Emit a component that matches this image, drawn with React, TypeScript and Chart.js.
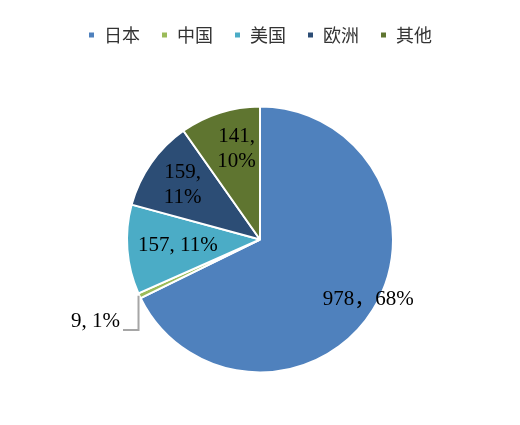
import React, { useEffect, useRef } from "react";
import { Chart, registerables } from "chart.js";

Chart.register(...registerables);

const categories = ["日本", "中国", "美国", "欧洲", "其他"];
const values = [978, 9, 157, 159, 141];
const colors = ["#4F81BD", "#9BBB59", "#4BACC6", "#2C4D75", "#5F7530"];
// label separators: Japan uses a full-width comma, two labels wrap onto two lines
const separators = ["，", ", ", ", ", ",\n", ",\n"];
// label placement (fraction of radius, angle nudge in degrees); China uses a leader line
const labelRadiusFrac = [0.93, 0, 0.62, 0.71, 0.7];
const labelAngleNudge = [-3, 0, 0, 0, 3];

const labelPlugin = {
  id: "sliceLabels",
  afterDatasetsDraw(chart: any) {
    const ctx = chart.ctx;
    const meta = chart.getDatasetMeta(0);
    const total = values.reduce((a, b) => a + b, 0);
    ctx.save();
    ctx.font = '21px "Liberation Serif", "Times New Roman", "Noto Sans CJK SC", serif';
    ctx.fillStyle = "#000";
    ctx.textBaseline = "middle";
    meta.data.forEach((arc: any, i: number) => {
      const { x, y, startAngle, endAngle, outerRadius } = arc.getProps(
        ["x", "y", "startAngle", "endAngle", "outerRadius"],
        true
      );
      const pct = Math.round((values[i] / total) * 100);
      const text = `${values[i]}${separators[i]}${pct}%`;
      const mid = (startAngle + endAngle) / 2;
      if (labelRadiusFrac[i] === 0) {
        // leader line label
        const sx = x + Math.cos(mid) * outerRadius;
        const sy = y + Math.sin(mid) * outerRadius;
        const ey = y + outerRadius * 0.68;
        const ex = x - outerRadius * 1.03;
        ctx.strokeStyle = "#A6A6A6";
        ctx.lineWidth = 2;
        ctx.beginPath();
        ctx.moveTo(sx - 1, sy);
        ctx.lineTo(sx - 1, ey);
        ctx.lineTo(ex, ey);
        ctx.stroke();
        ctx.textAlign = "right";
        ctx.fillText(text, ex - 3, ey - 8);
        return;
      }
      const a = mid + (labelAngleNudge[i] * Math.PI) / 180;
      const r = outerRadius * labelRadiusFrac[i];
      const cx = x + Math.cos(a) * r;
      const cy = y + Math.sin(a) * r;
      ctx.textAlign = "center";
      const lines = text.split("\n");
      const lh = 25;
      lines.forEach((ln, k) => {
        ctx.fillText(ln, cx, cy + (k - (lines.length - 1) / 2) * lh);
      });
    });
    ctx.restore();
  },
};

export default function App() {
  const ref = useRef<HTMLCanvasElement>(null);
  useEffect(() => {
    if (!ref.current) return;
    const chart = new Chart(ref.current, {
      type: "pie",
      data: {
        labels: categories,
        datasets: [
          {
            data: values,
            backgroundColor: colors,
            borderColor: "#FFFFFF",
            borderWidth: 2,
            radius: 133,
          },
        ],
      },
      options: {
        animation: false,
        responsive: false,
        maintainAspectRatio: false,
        layout: { padding: { top: 5, bottom: -2, left: 0, right: 0 } },
        plugins: {
          tooltip: { enabled: false },
          legend: {
            position: "top",
            labels: {
              boxWidth: 7,
              boxHeight: 7,
              padding: 21,
              color: "#333333",
              font: { family: '"Noto Sans CJK SC", sans-serif', size: 18 },
            },
          },
        },
      },
      plugins: [labelPlugin],
    });
    return () => chart.destroy();
  }, []);
  return (
    <div style={{ position: "fixed", left: 0, top: 0, width: 520, height: 425, background: "#fff" }}>
      <canvas ref={ref} width={520} height={425} style={{ width: 520, height: 425 }} />
    </div>
  );
}
